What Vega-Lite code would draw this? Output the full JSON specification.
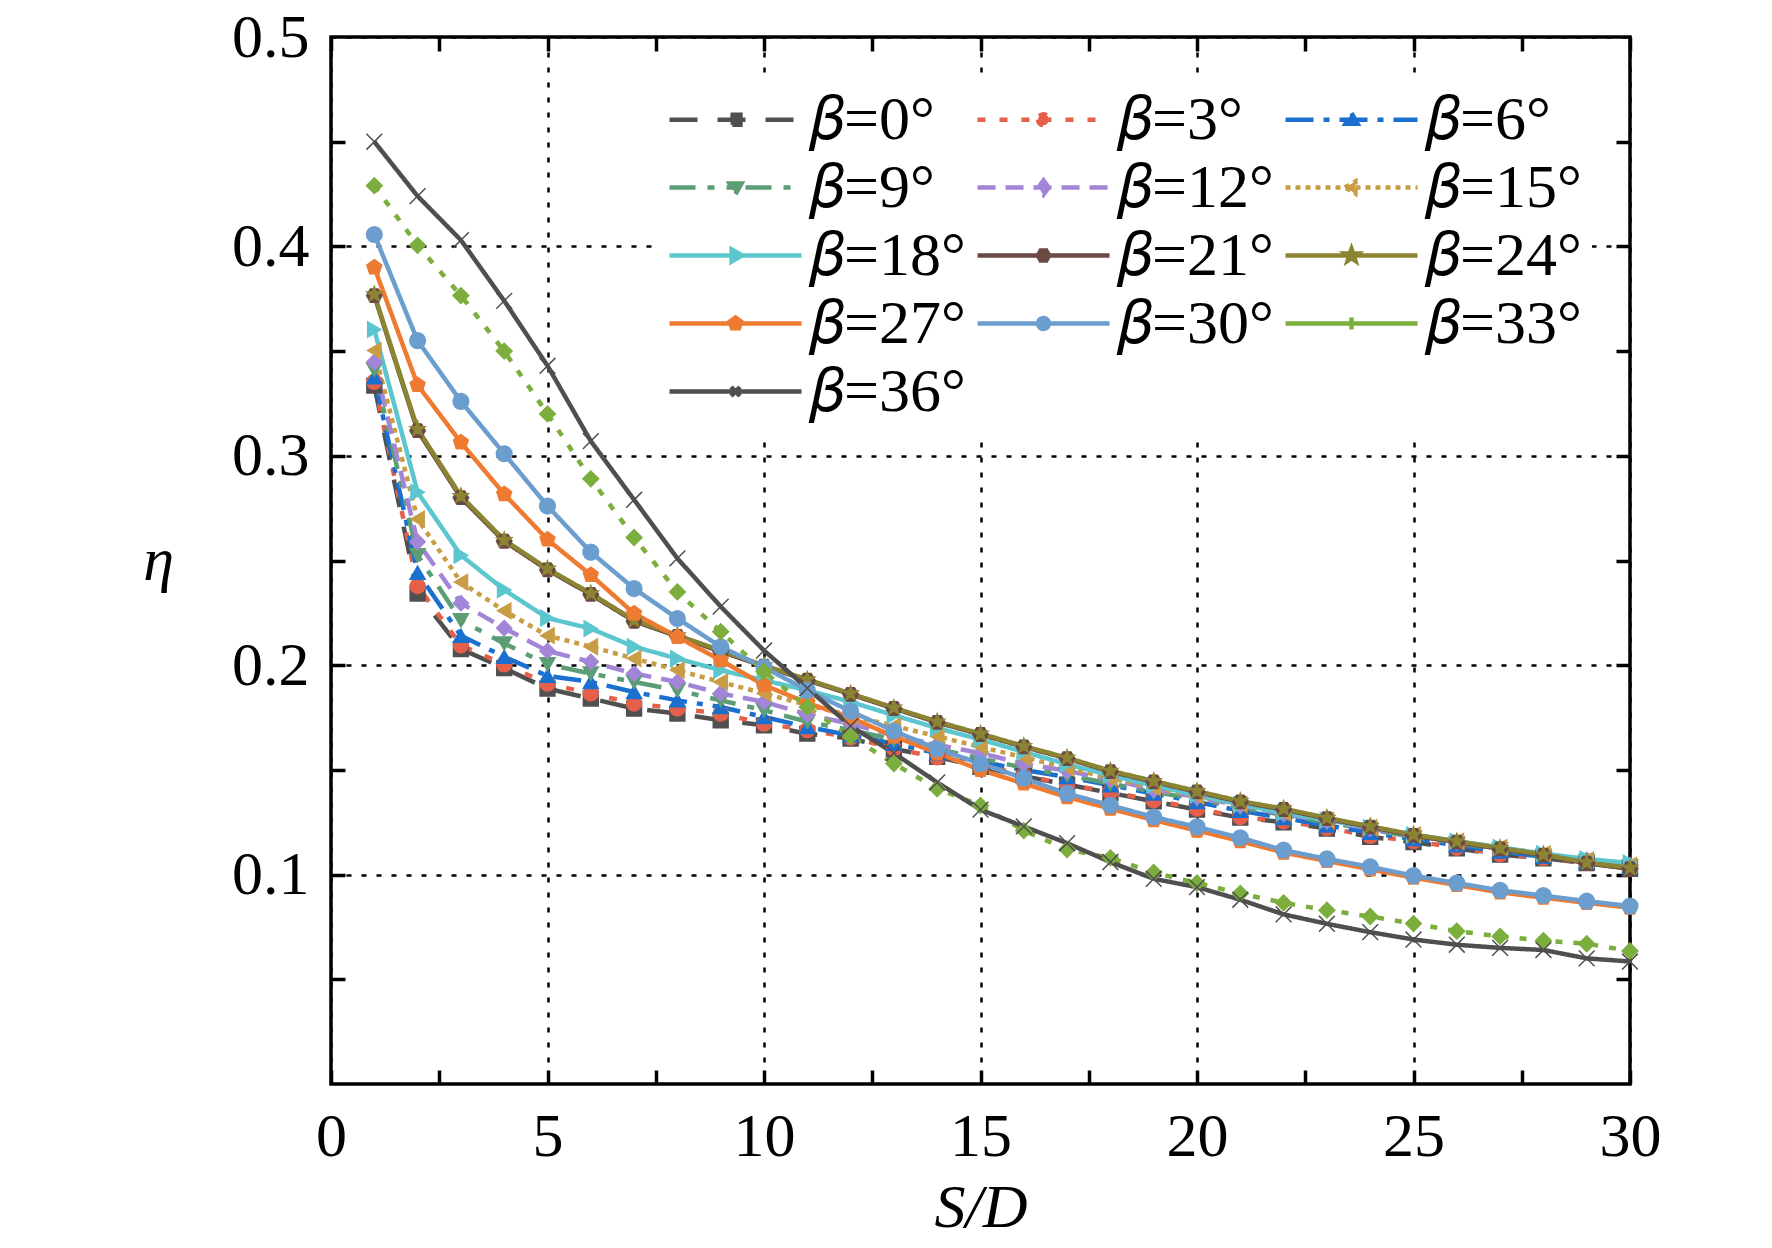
{
  "$schema": "https://vega.github.io/schema/vega-lite/v6.json",
  "width": 1299,
  "height": 1047,
  "autosize": {"type": "none"},
  "padding": {"left": 331, "top": 37, "right": 142, "bottom": 164},
  "background": "white",
  "data": {
    "values": [
      {"b":0,"x":1,"y":0.3335},{"b":0,"x":2,"y":0.2342},{"b":0,"x":3,"y":0.2077},{"b":0,"x":4,"y":0.1986},{"b":0,"x":5,"y":0.1888},{"b":0,"x":6,"y":0.1841},{"b":0,"x":7,"y":0.1793},{"b":0,"x":8,"y":0.1769},{"b":0,"x":9,"y":0.1737},{"b":0,"x":10,"y":0.1713},{"b":0,"x":11,"y":0.1673},{"b":0,"x":12,"y":0.165},{"b":0,"x":13,"y":0.16},{"b":0,"x":14,"y":0.1562},{"b":0,"x":15,"y":0.1515},{"b":0,"x":16,"y":0.147},{"b":0,"x":17,"y":0.143},{"b":0,"x":18,"y":0.139},{"b":0,"x":19,"y":0.135},{"b":0,"x":20,"y":0.131},{"b":0,"x":21,"y":0.1272},{"b":0,"x":22,"y":0.125},{"b":0,"x":23,"y":0.122},{"b":0,"x":24,"y":0.118},{"b":0,"x":25,"y":0.1155},{"b":0,"x":26,"y":0.1125},{"b":0,"x":27,"y":0.1095},{"b":0,"x":28,"y":0.1078},{"b":0,"x":29,"y":0.1055},{"b":0,"x":30,"y":0.1028},
      {"b":3,"x":1,"y":0.3353},{"b":3,"x":2,"y":0.2378},{"b":3,"x":3,"y":0.2095},{"b":3,"x":4,"y":0.2004},{"b":3,"x":5,"y":0.1912},{"b":3,"x":6,"y":0.1865},{"b":3,"x":7,"y":0.1817},{"b":3,"x":8,"y":0.1793},{"b":3,"x":9,"y":0.1769},{"b":3,"x":10,"y":0.1721},{"b":3,"x":11,"y":0.169},{"b":3,"x":12,"y":0.1655},{"b":3,"x":13,"y":0.1602},{"b":3,"x":14,"y":0.156},{"b":3,"x":15,"y":0.1525},{"b":3,"x":16,"y":0.1475},{"b":3,"x":17,"y":0.143},{"b":3,"x":18,"y":0.1395},{"b":3,"x":19,"y":0.1355},{"b":3,"x":20,"y":0.1315},{"b":3,"x":21,"y":0.1275},{"b":3,"x":22,"y":0.1255},{"b":3,"x":23,"y":0.1223},{"b":3,"x":24,"y":0.1185},{"b":3,"x":25,"y":0.116},{"b":3,"x":26,"y":0.1128},{"b":3,"x":27,"y":0.1098},{"b":3,"x":28,"y":0.108},{"b":3,"x":29,"y":0.1057},{"b":3,"x":30,"y":0.103},
      {"b":6,"x":1,"y":0.3375},{"b":6,"x":2,"y":0.2442},{"b":6,"x":3,"y":0.2141},{"b":6,"x":4,"y":0.204},{"b":6,"x":5,"y":0.1949},{"b":6,"x":6,"y":0.192},{"b":6,"x":7,"y":0.1872},{"b":6,"x":8,"y":0.1832},{"b":6,"x":9,"y":0.18},{"b":6,"x":10,"y":0.1753},{"b":6,"x":11,"y":0.1705},{"b":6,"x":12,"y":0.1665},{"b":6,"x":13,"y":0.1625},{"b":6,"x":14,"y":0.158},{"b":6,"x":15,"y":0.154},{"b":6,"x":16,"y":0.15},{"b":6,"x":17,"y":0.1466},{"b":6,"x":18,"y":0.1427},{"b":6,"x":19,"y":0.1387},{"b":6,"x":20,"y":0.1347},{"b":6,"x":21,"y":0.1305},{"b":6,"x":22,"y":0.127},{"b":6,"x":23,"y":0.1235},{"b":6,"x":24,"y":0.12},{"b":6,"x":25,"y":0.117},{"b":6,"x":26,"y":0.114},{"b":6,"x":27,"y":0.111},{"b":6,"x":28,"y":0.1085},{"b":6,"x":29,"y":0.106},{"b":6,"x":30,"y":0.1035},
      {"b":9,"x":1,"y":0.3411},{"b":9,"x":2,"y":0.2525},{"b":9,"x":3,"y":0.2214},{"b":9,"x":4,"y":0.2104},{"b":9,"x":5,"y":0.2004},{"b":9,"x":6,"y":0.196},{"b":9,"x":7,"y":0.192},{"b":9,"x":8,"y":0.188},{"b":9,"x":9,"y":0.1832},{"b":9,"x":10,"y":0.1785},{"b":9,"x":11,"y":0.173},{"b":9,"x":12,"y":0.169},{"b":9,"x":13,"y":0.1645},{"b":9,"x":14,"y":0.16},{"b":9,"x":15,"y":0.1555},{"b":9,"x":16,"y":0.151},{"b":9,"x":17,"y":0.1475},{"b":9,"x":18,"y":0.1435},{"b":9,"x":19,"y":0.1395},{"b":9,"x":20,"y":0.136},{"b":9,"x":21,"y":0.132},{"b":9,"x":22,"y":0.1285},{"b":9,"x":23,"y":0.125},{"b":9,"x":24,"y":0.1215},{"b":9,"x":25,"y":0.118},{"b":9,"x":26,"y":0.115},{"b":9,"x":27,"y":0.112},{"b":9,"x":28,"y":0.109},{"b":9,"x":29,"y":0.1065},{"b":9,"x":30,"y":0.104},
      {"b":12,"x":1,"y":0.3448},{"b":12,"x":2,"y":0.2589},{"b":12,"x":3,"y":0.2296},{"b":12,"x":4,"y":0.2177},{"b":12,"x":5,"y":0.2068},{"b":12,"x":6,"y":0.2016},{"b":12,"x":7,"y":0.196},{"b":12,"x":8,"y":0.192},{"b":12,"x":9,"y":0.1865},{"b":12,"x":10,"y":0.1825},{"b":12,"x":11,"y":0.1765},{"b":12,"x":12,"y":0.172},{"b":12,"x":13,"y":0.1665},{"b":12,"x":14,"y":0.162},{"b":12,"x":15,"y":0.158},{"b":12,"x":16,"y":0.153},{"b":12,"x":17,"y":0.1495},{"b":12,"x":18,"y":0.1455},{"b":12,"x":19,"y":0.1405},{"b":12,"x":20,"y":0.137},{"b":12,"x":21,"y":0.133},{"b":12,"x":22,"y":0.129},{"b":12,"x":23,"y":0.1255},{"b":12,"x":24,"y":0.122},{"b":12,"x":25,"y":0.1185},{"b":12,"x":26,"y":0.1155},{"b":12,"x":27,"y":0.1125},{"b":12,"x":28,"y":0.1095},{"b":12,"x":29,"y":0.107},{"b":12,"x":30,"y":0.1045},
      {"b":15,"x":1,"y":0.3503},{"b":15,"x":2,"y":0.2698},{"b":15,"x":3,"y":0.2397},{"b":15,"x":4,"y":0.226},{"b":15,"x":5,"y":0.2141},{"b":15,"x":6,"y":0.2088},{"b":15,"x":7,"y":0.2032},{"b":15,"x":8,"y":0.1976},{"b":15,"x":9,"y":0.192},{"b":15,"x":10,"y":0.1865},{"b":15,"x":11,"y":0.181},{"b":15,"x":12,"y":0.176},{"b":15,"x":13,"y":0.171},{"b":15,"x":14,"y":0.166},{"b":15,"x":15,"y":0.161},{"b":15,"x":16,"y":0.156},{"b":15,"x":17,"y":0.151},{"b":15,"x":18,"y":0.146},{"b":15,"x":19,"y":0.1415},{"b":15,"x":20,"y":0.1375},{"b":15,"x":21,"y":0.1335},{"b":15,"x":22,"y":0.1295},{"b":15,"x":23,"y":0.126},{"b":15,"x":24,"y":0.1225},{"b":15,"x":25,"y":0.119},{"b":15,"x":26,"y":0.116},{"b":15,"x":27,"y":0.113},{"b":15,"x":28,"y":0.11},{"b":15,"x":29,"y":0.107},{"b":15,"x":30,"y":0.1045},
      {"b":18,"x":1,"y":0.3603},{"b":18,"x":2,"y":0.2826},{"b":18,"x":3,"y":0.2525},{"b":18,"x":4,"y":0.236},{"b":18,"x":5,"y":0.2225},{"b":18,"x":6,"y":0.2175},{"b":18,"x":7,"y":0.2088},{"b":18,"x":8,"y":0.2032},{"b":18,"x":9,"y":0.1976},{"b":18,"x":10,"y":0.1928},{"b":18,"x":11,"y":0.188},{"b":18,"x":12,"y":0.1825},{"b":18,"x":13,"y":0.1761},{"b":18,"x":14,"y":0.17},{"b":18,"x":15,"y":0.1645},{"b":18,"x":16,"y":0.1586},{"b":18,"x":17,"y":0.1527},{"b":18,"x":18,"y":0.1475},{"b":18,"x":19,"y":0.1425},{"b":18,"x":20,"y":0.138},{"b":18,"x":21,"y":0.1335},{"b":18,"x":22,"y":0.1295},{"b":18,"x":23,"y":0.126},{"b":18,"x":24,"y":0.1225},{"b":18,"x":25,"y":0.119},{"b":18,"x":26,"y":0.116},{"b":18,"x":27,"y":0.113},{"b":18,"x":28,"y":0.11},{"b":18,"x":29,"y":0.1075},{"b":18,"x":30,"y":0.1055},
      {"b":21,"x":1,"y":0.3765},{"b":21,"x":2,"y":0.312},{"b":21,"x":3,"y":0.28},{"b":21,"x":4,"y":0.2592},{"b":21,"x":5,"y":0.2455},{"b":21,"x":6,"y":0.2338},{"b":21,"x":7,"y":0.221},{"b":21,"x":8,"y":0.2138},{"b":21,"x":9,"y":0.2065},{"b":21,"x":10,"y":0.1995},{"b":21,"x":11,"y":0.1928},{"b":21,"x":12,"y":0.1861},{"b":21,"x":13,"y":0.1793},{"b":21,"x":14,"y":0.1727},{"b":21,"x":15,"y":0.1669},{"b":21,"x":16,"y":0.161},{"b":21,"x":17,"y":0.1554},{"b":21,"x":18,"y":0.1492},{"b":21,"x":19,"y":0.1443},{"b":21,"x":20,"y":0.1395},{"b":21,"x":21,"y":0.1347},{"b":21,"x":22,"y":0.1311},{"b":21,"x":23,"y":0.1267},{"b":21,"x":24,"y":0.1227},{"b":21,"x":25,"y":0.1187},{"b":21,"x":26,"y":0.1155},{"b":21,"x":27,"y":0.1123},{"b":21,"x":28,"y":0.1092},{"b":21,"x":29,"y":0.1054},{"b":21,"x":30,"y":0.1028},
      {"b":24,"x":1,"y":0.3771},{"b":24,"x":2,"y":0.3128},{"b":24,"x":3,"y":0.2808},{"b":24,"x":4,"y":0.2598},{"b":24,"x":5,"y":0.2461},{"b":24,"x":6,"y":0.2343},{"b":24,"x":7,"y":0.2215},{"b":24,"x":8,"y":0.2143},{"b":24,"x":9,"y":0.207},{"b":24,"x":10,"y":0.1999},{"b":24,"x":11,"y":0.1932},{"b":24,"x":12,"y":0.1865},{"b":24,"x":13,"y":0.1797},{"b":24,"x":14,"y":0.1731},{"b":24,"x":15,"y":0.1673},{"b":24,"x":16,"y":0.1614},{"b":24,"x":17,"y":0.1558},{"b":24,"x":18,"y":0.1496},{"b":24,"x":19,"y":0.1447},{"b":24,"x":20,"y":0.1399},{"b":24,"x":21,"y":0.1351},{"b":24,"x":22,"y":0.1315},{"b":24,"x":23,"y":0.1271},{"b":24,"x":24,"y":0.1231},{"b":24,"x":25,"y":0.1191},{"b":24,"x":26,"y":0.1159},{"b":24,"x":27,"y":0.1127},{"b":24,"x":28,"y":0.1096},{"b":24,"x":29,"y":0.1058},{"b":24,"x":30,"y":0.1032},
      {"b":27,"x":1,"y":0.39},{"b":27,"x":2,"y":0.3338},{"b":27,"x":3,"y":0.3064},{"b":27,"x":4,"y":0.2817},{"b":27,"x":5,"y":0.26},{"b":27,"x":6,"y":0.2431},{"b":27,"x":7,"y":0.2247},{"b":27,"x":8,"y":0.2135},{"b":27,"x":9,"y":0.2024},{"b":27,"x":10,"y":0.1905},{"b":27,"x":11,"y":0.182},{"b":27,"x":12,"y":0.175},{"b":27,"x":13,"y":0.166},{"b":27,"x":14,"y":0.158},{"b":27,"x":15,"y":0.15},{"b":27,"x":16,"y":0.1435},{"b":27,"x":17,"y":0.137},{"b":27,"x":18,"y":0.1315},{"b":27,"x":19,"y":0.126},{"b":27,"x":20,"y":0.121},{"b":27,"x":21,"y":0.116},{"b":27,"x":22,"y":0.1105},{"b":27,"x":23,"y":0.1065},{"b":27,"x":24,"y":0.1025},{"b":27,"x":25,"y":0.0985},{"b":27,"x":26,"y":0.095},{"b":27,"x":27,"y":0.0915},{"b":27,"x":28,"y":0.089},{"b":27,"x":29,"y":0.0865},{"b":27,"x":30,"y":0.0842},
      {"b":30,"x":1,"y":0.4057},{"b":30,"x":2,"y":0.355},{"b":30,"x":3,"y":0.326},{"b":30,"x":4,"y":0.301},{"b":30,"x":5,"y":0.276},{"b":30,"x":6,"y":0.254},{"b":30,"x":7,"y":0.2366},{"b":30,"x":8,"y":0.2223},{"b":30,"x":9,"y":0.2088},{"b":30,"x":10,"y":0.199},{"b":30,"x":11,"y":0.188},{"b":30,"x":12,"y":0.178},{"b":30,"x":13,"y":0.1686},{"b":30,"x":14,"y":0.16},{"b":30,"x":15,"y":0.153},{"b":30,"x":16,"y":0.146},{"b":30,"x":17,"y":0.1387},{"b":30,"x":18,"y":0.1331},{"b":30,"x":19,"y":0.1275},{"b":30,"x":20,"y":0.1228},{"b":30,"x":21,"y":0.1176},{"b":30,"x":22,"y":0.1117},{"b":30,"x":23,"y":0.1075},{"b":30,"x":24,"y":0.1037},{"b":30,"x":25,"y":0.0995},{"b":30,"x":26,"y":0.096},{"b":30,"x":27,"y":0.0925},{"b":30,"x":28,"y":0.09},{"b":30,"x":29,"y":0.0873},{"b":30,"x":30,"y":0.085},
      {"b":33,"x":1,"y":0.429},{"b":33,"x":2,"y":0.4005},{"b":33,"x":3,"y":0.3765},{"b":33,"x":4,"y":0.35},{"b":33,"x":5,"y":0.32},{"b":33,"x":6,"y":0.289},{"b":33,"x":7,"y":0.261},{"b":33,"x":8,"y":0.235},{"b":33,"x":9,"y":0.216},{"b":33,"x":10,"y":0.197},{"b":33,"x":11,"y":0.18},{"b":33,"x":12,"y":0.166},{"b":33,"x":13,"y":0.153},{"b":33,"x":14,"y":0.141},{"b":33,"x":15,"y":0.133},{"b":33,"x":16,"y":0.121},{"b":33,"x":17,"y":0.112},{"b":33,"x":18,"y":0.108},{"b":33,"x":19,"y":0.101},{"b":33,"x":20,"y":0.096},{"b":33,"x":21,"y":0.091},{"b":33,"x":22,"y":0.0865},{"b":33,"x":23,"y":0.083},{"b":33,"x":24,"y":0.08},{"b":33,"x":25,"y":0.0766},{"b":33,"x":26,"y":0.073},{"b":33,"x":27,"y":0.0705},{"b":33,"x":28,"y":0.0685},{"b":33,"x":29,"y":0.067},{"b":33,"x":30,"y":0.0635},
      {"b":36,"x":1,"y":0.45},{"b":36,"x":2,"y":0.424},{"b":36,"x":3,"y":0.403},{"b":36,"x":4,"y":0.374},{"b":36,"x":5,"y":0.343},{"b":36,"x":6,"y":0.307},{"b":36,"x":7,"y":0.279},{"b":36,"x":8,"y":0.251},{"b":36,"x":9,"y":0.228},{"b":36,"x":10,"y":0.207},{"b":36,"x":11,"y":0.189},{"b":36,"x":12,"y":0.171},{"b":36,"x":13,"y":0.158},{"b":36,"x":14,"y":0.144},{"b":36,"x":15,"y":0.131},{"b":36,"x":16,"y":0.123},{"b":36,"x":17,"y":0.115},{"b":36,"x":18,"y":0.106},{"b":36,"x":19,"y":0.098},{"b":36,"x":20,"y":0.094},{"b":36,"x":21,"y":0.088},{"b":36,"x":22,"y":0.081},{"b":36,"x":23,"y":0.0765},{"b":36,"x":24,"y":0.0725},{"b":36,"x":25,"y":0.069},{"b":36,"x":26,"y":0.0665},{"b":36,"x":27,"y":0.065},{"b":36,"x":28,"y":0.064},{"b":36,"x":29,"y":0.06},{"b":36,"x":30,"y":0.0585}
    ]
  },
  "layer": [
    {
      "mark": {"type": "line", "strokeWidth": 4.5},
      "encoding": {
        "x": {
          "field": "x", "type": "quantitative",
          "scale": {"domain": [0, 30], "nice": false},
          "axis": {
            "orient": "bottom", "values": [0, 5, 10, 15, 20, 25, 30],
            "ticks": false, "domain": false, "grid": true,
            "labelPadding": 22, "labelFlush": false,
            "title": "S/D", "titlePadding": 10
          }
        },
        "y": {
          "field": "y", "type": "quantitative",
          "scale": {"domain": [0, 0.5], "nice": false},
          "axis": {
            "orient": "left", "values": [0.1, 0.2, 0.3, 0.4, 0.5], "format": ".1f",
            "ticks": false, "domain": false, "grid": true,
            "labelPadding": 22,
            "title": "η", "titleAngle": 0, "titleAlign": "right", "titleBaseline": "middle", "titlePadding": 58
          }
        },
        "color": {
          "field": "b", "type": "nominal",
          "scale": {
            "domain": [0, 3, 6, 9, 12, 15, 18, 21, 24, 27, 30, 33, 36],
            "range": ["#505050", "#e4604a", "#1a6fcf", "#5b9e76", "#a385d8", "#c99d45", "#5cc6cf", "#6b4a44", "#8b8432", "#ef7a32", "#6b9ecf", "#7cae3e", "#4f4f4f"]
          },
          "legend": {
            "orient": "none", "legendX": 326, "legendY": 40, "columns": 3, "direction": "horizontal", "title": null,
            "fillColor": "white", "padding": 10,
            "labelFont": "Liberation Serif, DejaVu Serif", "labelFontSize": 62, "labelColor": "black",
            "labelOffset": 42, "labelLimit": 0,
            "labelExpr": "'𝛽=' + datum.label + '°'",
            "symbolSize": 3600, "symbolOffset": 36, "symbolStrokeWidth": 4.5, "symbolType": "stroke",
            "columnPadding": 2, "rowPadding": 4,
            "encode": {
              "symbols": {
                "update": {
                  "shape": {"signal": "['M-2.2,0H2.2M-0.165,-0.165H0.165V0.165H-0.165Z','M-2.2,0H2.2M-0.18,0A0.18,0.18,0,1,0,0.18,0A0.18,0.18,0,1,0,-0.18,0Z','M-2.2,0H2.2M0,-0.22L0.2,0.13H-0.2Z','M-2.2,0H2.2M0,0.22L0.2,-0.13H-0.2Z','M-2.2,0H2.2M0,-0.24L0.17,0L0,0.24L-0.17,0Z','M-2.2,0H2.2M-0.22,0L0.13,-0.2V0.2Z','M-2.2,0H2.2M0.22,0L-0.13,-0.2V0.2Z','M-2.2,0H2.2M-0.19,0L-0.095,-0.165H0.095L0.19,0L0.095,0.165H-0.095Z','M-2.2,0H2.2M0,-0.22L0.053,-0.07L0.21,-0.068L0.084,0.027L0.13,0.178L0,0.088L-0.13,0.178L-0.084,0.027L-0.21,-0.068L-0.053,-0.07Z','M-2.2,0H2.2M0,-0.2L0.19,-0.062L0.117,0.16H-0.117L-0.19,-0.062Z','M-2.2,0H2.2M-0.18,0A0.18,0.18,0,1,0,0.18,0A0.18,0.18,0,1,0,-0.18,0Z','M-2.2,0H2.2M0,-0.2V0.2','M-2.2,0H2.2M-0.15,-0.15L0.15,0.15M-0.15,0.15L0.15,-0.15'][round(datum.value / 3)]"},
                  "strokeDash": {"signal": "[[28,20],[8,14],[28,10,6,10],[26,12,7,12,7,12],[18,10],[5,5],[1,0],[1,0],[1,0],[1,0],[1,0],[1,0],[1,0]][round(datum.value / 3)]"},
                  "fill": {"scale": "color", "field": "value"},
                  "stroke": {"scale": "color", "field": "value"}
                }
              }
            }
          }
        },
        "strokeDash": {
          "field": "b", "type": "nominal",
          "scale": {
            "range": [[28, 20], [8, 14], [28, 10, 6, 10], [26, 12, 7, 12, 7, 12], [18, 10], [5, 5], [1, 0], [1, 0], [1, 0], [1, 0], [1, 0], [7, 11], [1, 0]]
          },
          "legend": null
        }
      }
    },
    {
      "mark": {"type": "point", "filled": true, "opacity": 1, "strokeWidth": 1.5},
      "encoding": {
        "x": {
          "field": "x", "type": "quantitative",
          "scale": {"domain": [0, 30], "nice": false},
          "axis": {
            "orient": "top", "values": [0, 2.5, 5, 7.5, 10, 12.5, 15, 17.5, 20, 22.5, 25, 27.5, 30],
            "labels": false, "ticks": true, "tickSize": -14, "domain": false, "grid": false, "title": null
          }
        },
        "y": {
          "field": "y", "type": "quantitative",
          "scale": {"domain": [0, 0.5], "nice": false},
          "axis": {
            "orient": "right", "values": [0.05, 0.1, 0.15, 0.2, 0.25, 0.3, 0.35, 0.4, 0.45],
            "labels": false, "ticks": true, "tickSize": -14, "domain": false, "grid": false, "title": null
          }
        },
        "color": {"field": "b", "type": "nominal", "legend": null},
        "stroke": {
          "field": "b", "type": "nominal",
          "scale": {
            "range": ["#505050", "#e4604a", "#1a6fcf", "#5b9e76", "#a385d8", "#c99d45", "#5cc6cf", "#6b4a44", "#8b8432", "#ef7a32", "#6b9ecf", "#7cae3e", "#4f4f4f"]
          },
          "legend": null
        },
        "shape": {
          "field": "b", "type": "nominal",
          "scale": {
            "range": ["square", "circle", "triangle-up", "triangle-down", "diamond", "triangle-left", "triangle-right", "M-1,0L-0.5,-0.866H0.5L1,0L0.5,0.866H-0.5Z", "M0,-1L0.235,-0.324L0.951,-0.309L0.38,0.124L0.588,0.809L0,0.4L-0.588,0.809L-0.38,0.124L-0.951,-0.309L-0.235,-0.324Z", "M0,-1L0.951,-0.309L0.588,0.809H-0.588L-0.951,-0.309Z", "circle", "diamond", "M-1,-1L1,1M-1,1L1,-1"]
          },
          "legend": null
        },
        "size": {
          "field": "b", "type": "ordinal",
          "scale": {
            "range": [220, 250, 290, 290, 340, 290, 310, 290, 360, 310, 280, 420, 240]
          },
          "legend": null
        }
      }
    },
    {
      "mark": {"type": "point", "opacity": 0},
      "encoding": {
        "x": {
          "field": "x", "type": "quantitative",
          "scale": {"domain": [0, 30], "nice": false},
          "axis": {
            "orient": "bottom", "values": [0, 2.5, 5, 7.5, 10, 12.5, 15, 17.5, 20, 22.5, 25, 27.5, 30],
            "labels": false, "ticks": true, "tickSize": -14, "domain": false, "grid": false, "title": null
          }
        },
        "y": {
          "field": "y", "type": "quantitative",
          "scale": {"domain": [0, 0.5], "nice": false},
          "axis": {
            "orient": "left", "values": [0.05, 0.1, 0.15, 0.2, 0.25, 0.3, 0.35, 0.4, 0.45],
            "labels": false, "ticks": true, "tickSize": -14, "domain": false, "grid": false, "title": null
          }
        }
      }
    }
  ],
  "resolve": {"axis": {"x": "independent", "y": "independent"}},
  "config": {
    "view": {"stroke": "black", "strokeWidth": 3.5},
    "legend": {"labelFont": "Liberation Serif, DejaVu Serif"},
    "axis": {
      "labelFont": "Liberation Serif", "labelFontSize": 62, "labelColor": "black",
      "titleFont": "Liberation Serif", "titleFontSize": 62, "titleFontStyle": "italic", "titleFontWeight": "normal", "titleColor": "black",
      "tickColor": "black", "tickWidth": 3.5,
      "gridColor": "black", "gridDash": [5, 10], "gridWidth": 2.5, "gridOpacity": 1
    }
  }
}
